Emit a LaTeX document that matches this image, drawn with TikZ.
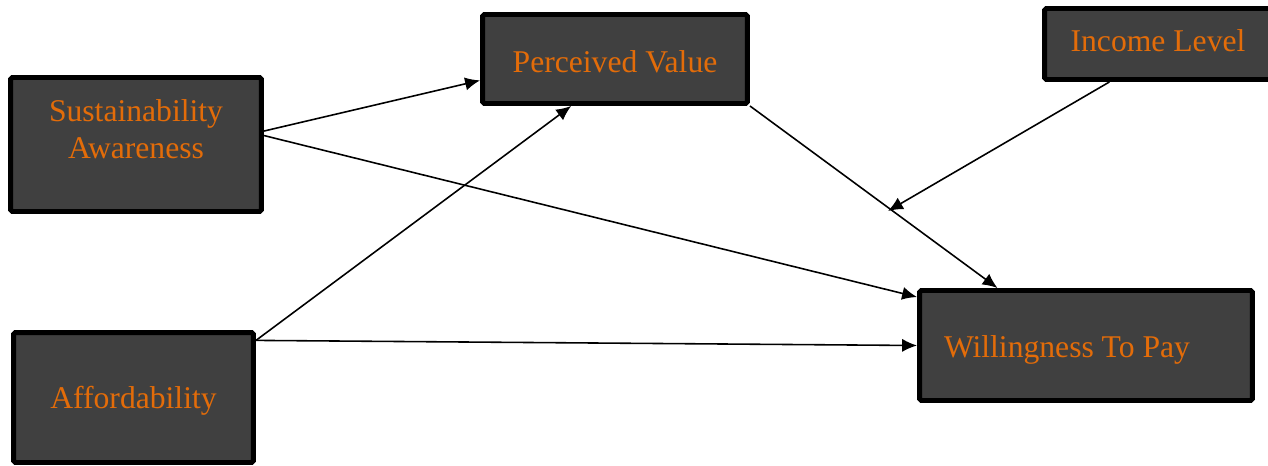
\documentclass[tikz,border=0pt]{standalone}
\usepackage{fontspec}
\setmainfont{Liberation Serif}
\usepackage{tikz}
\usetikzlibrary{arrows.meta,calc}
\usetikzlibrary{positioning}
\definecolor{boxgray}{HTML}{404040}
\definecolor{txtorange}{HTML}{E36C09}

\begin{document}
\begin{tikzpicture}[x=0.02cm,y=-0.02cm]
\useasboundingbox (0,0) rectangle (1268,466);
%%%%%%%%%%%%%%%%%%%%%%%%%%%%%%%%%%%%%%%%%%%%%%%%%%%%%%%%%%%%%%%%%%%%%%%%
%boxes
\tikzstyle{box}=[rectangle,draw=black,fill=boxgray,line width=2.83pt,rounded corners=1pt,inner sep=0pt]
\tikzstyle{lbl}=[text=txtorange,font=\fontsize{18}{21}\selectfont,align=center]
\tikzstyle{arr}=[->,>={Latex[length=8.5pt,width=7.5pt]},line width=0.9pt]

\node[box,minimum width=5.02cm,minimum height=2.68cm] (SA) at (136,144.5) {};
\node[lbl] (SAt) at (136,129) {Sustainability\\Awareness};

\node[box,minimum width=4.80cm,minimum height=2.60cm] (Aff) at (133.5,397.5) {};
\node[lbl] (Afft) at (133.5,401) {Affordability};

\node[box,minimum width=5.30cm,minimum height=1.78cm] (PV) at (615,59) {};
\node[lbl] (PVt) at (615,62) {Perceived Value};

\node[box,minimum width=4.54cm,minimum height=1.42cm] (IL) at (1158,44) {};
\node[lbl] (ILt) at (1158,41) {Income Level};

\node[box,minimum width=6.66cm,minimum height=2.20cm] (WTP) at (1086,345.5) {};
\node[lbl] (WTPt) at (1067,350) {Willingness To Pay};

\coordinate (mod) at (888,211);

%arrows
\draw[arr] (SA.6.5) -- (PV.189.5);
\draw[arr] (SA.4.2) -- (WTP.164.9);
\draw[arr] (Aff.25.5) -- (PV.227.5);
\draw[arr] (Aff.25.5) -- (WTP.180.9);
\draw[arr] (PV.south east) -- (WTP.147.7);
\draw[arr] (IL.218) -- (mod);

\end{tikzpicture}
\end{document}
